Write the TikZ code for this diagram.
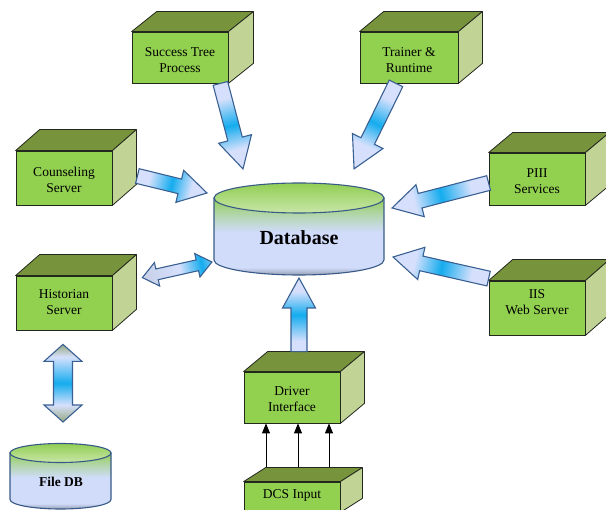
\documentclass[tikz,border=0pt]{standalone}
\usepackage{fontspec}
\setmainfont{Liberation Serif}
\usetikzlibrary{arrows.meta,calc}

% palette
\definecolor{frontgreen}{RGB}{146,208,80}
\definecolor{topgreen}{RGB}{119,147,60}
\definecolor{sidegreen}{RGB}{193,212,150}
\definecolor{edgecol}{RGB}{35,40,30}
\definecolor{apale}{RGB}{214,224,252}
\definecolor{acyan}{RGB}{20,172,238}
\definecolor{aolive}{RGB}{150,168,128}
\definecolor{aline}{RGB}{58,96,146}
\definecolor{dbline}{RGB}{56,90,135}
\definecolor{dbgreen}{RGB}{146,206,84}
\definecolor{dbtoplight}{RGB}{200,230,168}
\definecolor{dblav}{RGB}{208,220,250}
\definecolor{dbshadow}{RGB}{150,160,182}

% shadings for the block arrows (along the arrow) and the cylinders
\pgfdeclarehorizontalshading{glowmid}{100bp}{color(0bp)=(apale); color(32bp)=(apale); color(50bp)=(acyan); color(66bp)=(apale); color(100bp)=(apale)}
\pgfdeclarehorizontalshading{glowolive}{100bp}{color(0bp)=(aolive); color(25bp)=(aolive); color(33bp)=(apale); color(50bp)=(acyan); color(64bp)=(apale); color(75bp)=(aolive); color(100bp)=(aolive)}
\pgfdeclarehorizontalshading{glowright}{100bp}{color(0bp)=(apale!85!gray); color(25bp)=(apale!85!gray); color(52bp)=(apale); color(70bp)=(acyan); color(75bp)=(acyan!70!apale); color(100bp)=(acyan!70!apale)}
\pgfdeclareverticalshading{dbbody}{100bp}{color(0bp)=(dbshadow); color(25bp)=(dbshadow); color(30bp)=(dblav); color(53bp)=(dblav); color(66bp)=(dbgreen!55!dblav); color(75bp)=(dbgreen); color(100bp)=(dbgreen)}

\tikzset{
  face/.style={draw=edgecol, line width=0.8pt, fill=frontgreen, minimum width=96pt,
    minimum height=52pt, inner sep=0pt},
  facetext/.style={align=center, inner sep=0pt, font=\fontsize{13.5}{16}\selectfont},
  topface/.style={draw=edgecol, line width=0.8pt, fill=topgreen, line join=round},
  sideface/.style={draw=edgecol, line width=0.8pt, fill=sidegreen, line join=round},
  blockarrow/.style={draw=aline, line width=1.1pt, shading=glowmid, line join=miter},
  feed/.style={line width=0.9pt, -{Triangle[length=10pt,width=8pt]}},
  dbedge/.style={draw=dbline, line width=1.1pt},
}

% top and right faces of a box whose front face is node #1
\newcommand\boxfaces[3]{%
  \path[topface] (#1.north west) -- ++(#2,-#3) -- ([shift={(#2,-#3)}]#1.north east)
    -- (#1.north east) -- cycle;
  \path[sideface] (#1.north east) -- ++(#2,-#3) -- ([shift={(#2,-#3)}]#1.south east)
    -- (#1.south east) -- cycle;}

% direction and length from #1 to #2
\newcommand\arrowsetup[2]{%
  \path (#1); \pgfgetlastxy{\bax}{\bay}%
  \path (#2); \pgfgetlastxy{\bbx}{\bby}%
  \pgfmathsetmacro\bang{atan2(\bby-\bay,\bbx-\bax)}%
  \pgfmathsetmacro\blen{veclen(\bbx-\bax,\bby-\bay)}}

% single-headed block arrow: [style]{from}{to}{half shaft}{half head}{head length}
\newcommand\blockarrow[6][]{%
  \arrowsetup{#2}{#3}%
  \begin{scope}[shift={(#2)}, rotate=\bang]
    \path[blockarrow, #1, shading angle=\bang]
      (0pt,-#4) -- ({\blen pt-#6},-#4) -- ({\blen pt-#6},-#5) -- (\blen pt,0pt)
      -- ({\blen pt-#6},#5) -- ({\blen pt-#6},#4) -- (0pt,#4) -- cycle;
  \end{scope}}

% double-headed block arrow
\newcommand\twinarrow[6][]{%
  \arrowsetup{#2}{#3}%
  \begin{scope}[shift={(#2)}, rotate=\bang]
    \path[blockarrow, #1, shading angle=\bang]
      (#6,-#4) -- ({\blen pt-#6},-#4) -- ({\blen pt-#6},-#5) -- (\blen pt,0pt)
      -- ({\blen pt-#6},#5) -- ({\blen pt-#6},#4) -- (#6,#4) -- (#6,#5)
      -- (0pt,0pt) -- (#6,-#5) -- cycle;
  \end{scope}}

\begin{document}
\begin{tikzpicture}[x=1pt, y=-1pt]
\useasboundingbox (0,0) rectangle (606,510);

% ---------- main database cylinder ----------
\shade[shading=dbbody, dbedge] (214,198) -- (214,260)
  arc[start angle=180, end angle=360, x radius=85pt, y radius=15pt] -- (384,198) -- cycle;
\shade[top color=dbgreen, bottom color=dbtoplight, dbedge]
  (299,198) ellipse [x radius=85pt, y radius=15pt];
\node[font=\bfseries\fontsize{20}{24}\selectfont] (db) at (299,238) {Database};

% ---------- file database cylinder ----------
\shade[shading=dbbody, dbedge] (10,453) -- (10,499.5)
  arc[start angle=180, end angle=360, x radius=50.5pt, y radius=9.5pt] -- (111,453) -- cycle;
\shade[top color=dbgreen, bottom color=dbtoplight, dbedge]
  (60.5,453) ellipse [x radius=50.5pt, y radius=9.5pt];
\node[font=\bfseries\fontsize{13.5}{16}\selectfont] (fdb) at (61,482) {File DB};

% ---------- boxes: front face, top and side, then the caption ----------
\node[face, minimum height=51pt] (st) at (180,57.5) {};
\boxfaces{st}{25}{20}
\node[facetext] (st-t) at ([yshift=-2.5pt]st.center) {Success Tree\\Process};

\node[face, minimum width=98pt, minimum height=51pt] (tr) at (409,57.5) {};
\boxfaces{tr}{24}{20}
\node[facetext] (tr-t) at ([yshift=-2.5pt]tr.center) {Trainer \&\\Runtime};

\node[face, minimum height=54pt] (cs) at (64,178) {};
\boxfaces{cs}{24}{21}
\node[facetext] (cs-t) at ([yshift=-2pt]cs.center) {Counseling\\Server};

\node[face] (piii) at (537,179) {};
\boxfaces{piii}{24}{20}
\node[facetext] (piii-t) at ([yshift=-2pt]piii.center) {PIII\\Services};

\node[face, minimum height=54pt] (hs) at (64,303) {};
\boxfaces{hs}{24}{21}
\node[facetext] (hs-t) at ([yshift=1pt]hs.center) {Historian\\Server};

\node[face, minimum height=54pt] (iis) at (537,308) {};
\boxfaces{iis}{24}{21}
\node[facetext] (iis-t) at ([yshift=6pt]iis.center) {IIS\\Web Server};

\node[face, minimum height=51pt] (di) at (292,397.5) {};
\boxfaces{di}{24}{20}
\node[facetext] (di-t) at ([yshift=-2pt]di.center) {Driver\\Interface};

\node[face, minimum height=30pt] (dcs) at (292,497) {};
\boxfaces{dcs}{22}{14}
\node[facetext] (dcs-t) at ([yshift=1.5pt]dcs.center) {DCS Input};

% ---------- arrow end points ----------
\coordinate (st-out)  at ([xshift=-8pt]st.south east);
\coordinate (tr-out)  at ([xshift=-13pt]tr.south);
\coordinate (cs-out)  at ([shift={(25,-2)}]cs.east);
\coordinate (piii-out) at ([shift={(0,4)}]piii.west);
\coordinate (iis-out) at ([shift={(0,-2)}]iis.north west);
\coordinate (di-out)  at ([shift={(7,-20)}]di.north);
\coordinate (hs-side) at ([shift={(30,2)}]hs.north east);
\coordinate (hs-low)  at ([shift={(-1,14)}]hs.south);

\coordinate (db-st)   at (243,169);
\coordinate (db-tr)   at (354,169);
\coordinate (db-cs)   at (207,193);
\coordinate (db-piii) at (392,208);
\coordinate (db-iis)  at (393,257);
\coordinate (db-di)   at (299,278);
\coordinate (db-hs)   at (212,262);
\coordinate (fdb-top) at (63,422);

% ---------- block arrows into the database ----------
\blockarrow{st-out}{db-st}{7.5pt}{17pt}{31pt}
\blockarrow{tr-out}{db-tr}{7.5pt}{17pt}{31pt}
\blockarrow{cs-out}{db-cs}{7.5pt}{16.5pt}{28pt}
\blockarrow{piii-out}{db-piii}{7.5pt}{16.5pt}{29pt}
\blockarrow{iis-out}{db-iis}{7.5pt}{16.5pt}{29pt}
\blockarrow{di-out}{db-di}{8pt}{16.5pt}{30pt}

% ---------- two-way links ----------
\twinarrow[shading=glowright]{hs-side}{db-hs}{5.5pt}{12pt}{15pt}
\twinarrow[shading=glowolive]{hs-low}{fdb-top}{9.5pt}{19pt}{17pt}

% ---------- DCS feeds ----------
\draw[feed] ([shift={(-26,-15)}]dcs.north) -- ([xshift=-26pt]di.south);
\draw[feed] ([shift={(6,-15)}]dcs.north) -- ([xshift=6pt]di.south);
\draw[feed] ([shift={(37,-15)}]dcs.north) -- ([xshift=37pt]di.south);
\end{tikzpicture}
\end{document}
